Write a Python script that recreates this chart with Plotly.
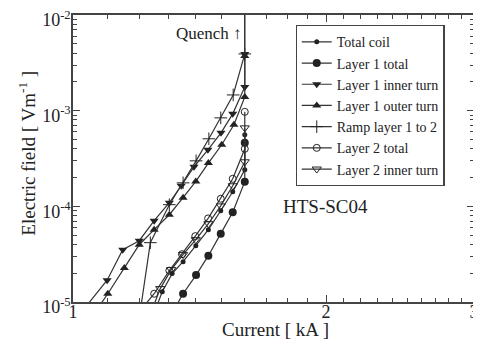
import plotly.graph_objects as go
import numpy as np

# ---- data (current in kA, electric field in V/m) ----
total_coil_I = [1.243, 1.277, 1.312, 1.352, 1.400, 1.449, 1.499, 1.549, 1.601, 1.601]
total_coil_E = [6.9e-6, 1.28e-5, 1.98e-5, 2.64e-5, 3.88e-5, 5.70e-5, 9.0e-5, 1.42e-4, 2.41e-4, 5.59e-4]

l1_total_I = [1.309, 1.352, 1.401, 1.449, 1.499, 1.549, 1.601, 1.601]
l1_total_E = [7.4e-6, 1.22e-5, 1.91e-5, 3.05e-5, 5.18e-5, 8.68e-5, 1.81e-4, 4.61e-4]

l1_inner_I = [1.018, 1.098, 1.146, 1.199, 1.249, 1.302, 1.345, 1.393, 1.447, 1.500, 1.549, 1.601, 1.601]
l1_inner_E = [7.4e-6, 1.69e-5, 3.52e-5, 4.37e-5, 7.08e-5, 1.09e-4, 1.64e-4, 2.59e-4, 3.90e-4, 5.86e-4, 9.26e-4, 1.77e-3, 3.92e-3]

l1_outer_I = [1.052, 1.100, 1.151, 1.199, 1.249, 1.302, 1.352, 1.400, 1.449, 1.503, 1.554, 1.601, 1.601]
l1_outer_E = [6.9e-6, 1.22e-5, 2.27e-5, 3.97e-5, 5.70e-5, 8.17e-5, 1.23e-4, 1.82e-4, 2.83e-4, 4.40e-4, 7.11e-4, 1.39e-3, 3.73e-3]

ramp_I = [1.203, 1.236, 1.302, 1.352, 1.401, 1.451, 1.499, 1.551, 1.601]
ramp_E = [8.3e-6, 4.17e-5, 1.04e-4, 1.76e-4, 2.99e-4, 5.08e-4, 8.41e-4, 1.46e-3, 3.92e-3]

l2_total_I = [1.199, 1.249, 1.302, 1.348, 1.398, 1.448, 1.499, 1.549, 1.601, 1.601]
l2_total_E = [7.9e-6, 1.22e-5, 2.13e-5, 3.16e-5, 4.88e-5, 7.48e-5, 1.20e-4, 1.94e-4, 3.99e-4, 9.72e-4]

l2_inner_I = [1.232, 1.270, 1.309, 1.352, 1.400, 1.449, 1.499, 1.549, 1.601, 1.601]
l2_inner_E = [6.9e-6, 1.38e-5, 2.18e-5, 3.13e-5, 4.48e-5, 6.58e-5, 1.01e-4, 1.64e-4, 2.92e-4, 6.61e-4]

quench_I = 1.601
x_ticks = [1, 2, 3]
y_ticks = [1e-5, 1e-4, 1e-3, 1e-2]
y_ticktext = ["10<sup>-5</sup>", "10<sup>-4</sup>", "10<sup>-3</sup>", "10<sup>-2</sup>"]
x_minor = [round(v, 1) for v in list(np.arange(1.1, 2.0, 0.1)) + list(np.arange(2.1, 3.0, 0.1))]
y_minor = [m * 10.0 ** k for k in (-5, -4, -3) for m in range(2, 10)]

FONT = "Liberation Serif"
LC = "#333333"
TC = "#222222"

series = [
    ("Total coil", total_coil_I, total_coil_E, dict(symbol="circle", size=5, color=TC)),
    ("Layer 1 total", l1_total_I, l1_total_E, dict(symbol="circle", size=8, color=TC)),
    ("Layer 1 inner turn", l1_inner_I, l1_inner_E, dict(symbol="triangle-down", size=8, color=TC)),
    ("Layer 1 outer turn", l1_outer_I, l1_outer_E, dict(symbol="triangle-up", size=8, color=TC)),
    ("Ramp layer 1 to 2", ramp_I, ramp_E, dict(symbol="cross-thin-open", size=9, color=TC, line=dict(width=1, color=TC))),
    ("Layer 2 total", l2_total_I, l2_total_E, dict(symbol="circle-open", size=7, color=TC, line=dict(width=1))),
    ("Layer 2 inner turn", l2_inner_I, l2_inner_E, dict(symbol="triangle-down-open", size=8, color=TC, line=dict(width=1))),
]

fig = go.Figure()
for name, xs, ys, mk in series:
    fig.add_trace(go.Scatter(x=xs, y=ys, name=name, mode="lines+markers",
                             line=dict(color=LC, width=1.2), marker=mk))

fig.add_shape(type="line", x0=quench_I, x1=quench_I, y0=3.9e-3, y1=1e-2,
              xref="x", yref="y", line=dict(color=LC, width=1.5))

fig.add_annotation(x=np.log10(quench_I), y=-2.19, xref="x", yref="y", text="Quench ↑",
                   showarrow=False, xanchor="right", yanchor="middle", xshift=-1,
                   font=dict(family=FONT, size=17, color=TC))
fig.add_annotation(x=0.74, y=0.29, xref="paper", yref="paper", text="HTS-SC04",
                   showarrow=False, font=dict(family=FONT, size=19, color=TC))
fig.add_annotation(x=0.504, y=-0.095, xref="paper", yref="paper", text="Current [ kA ]",
                   showarrow=False, xanchor="center", yanchor="middle",
                   font=dict(family=FONT, size=19, color=TC))
fig.add_annotation(x=-0.115, y=0.52, xref="paper", yref="paper",
                   text="Electric field [ Vm<sup>-1</sup> ]", textangle=-90,
                   showarrow=False, xanchor="center", yanchor="middle",
                   font=dict(family=FONT, size=19, color=TC))

axis_common = dict(showline=True, linecolor="#444", linewidth=1.5, mirror="allticks",
                   ticks="inside", ticklen=7, tickcolor="#444", showgrid=False, zeroline=False,
                   automargin=False, ticklabeloverflow="allow",
                   tickfont=dict(family=FONT, size=18, color=TC))

fig.update_xaxes(type="log", range=[0, np.log10(3)], tickmode="array", tickvals=x_ticks,
                 ticktext=[str(v) for v in x_ticks], ticklabelstandoff=-7,
                 minor=dict(tickmode="array", tickvals=x_minor, ticks="inside", ticklen=4, tickcolor="#444"),
                 **axis_common)
fig.update_yaxes(type="log", range=[-5, -2], tickmode="array", tickvals=y_ticks, ticktext=y_ticktext,
                 ticklabelstandoff=-3, ticklabelshift=5,
                 minor=dict(tickmode="array", tickvals=y_minor, ticks="inside", ticklen=4, tickcolor="#444"),
                 **axis_common)

# page body has an 8px default margin, so the figure is sized/offset to compensate
fig.update_layout(
    width=473, height=334,
    margin=dict(l=65, r=7, t=7, b=40),
    paper_bgcolor="white", plot_bgcolor="white",
    showlegend=True,
    legend=dict(x=0.555, y=0.965, xanchor="left", yanchor="top",
                bgcolor="white", bordercolor="#444", borderwidth=1.2,
                font=dict(family=FONT, size=14, color=TC),
                tracegroupgap=0, itemwidth=30),
)

fig.write_html("out.html")
